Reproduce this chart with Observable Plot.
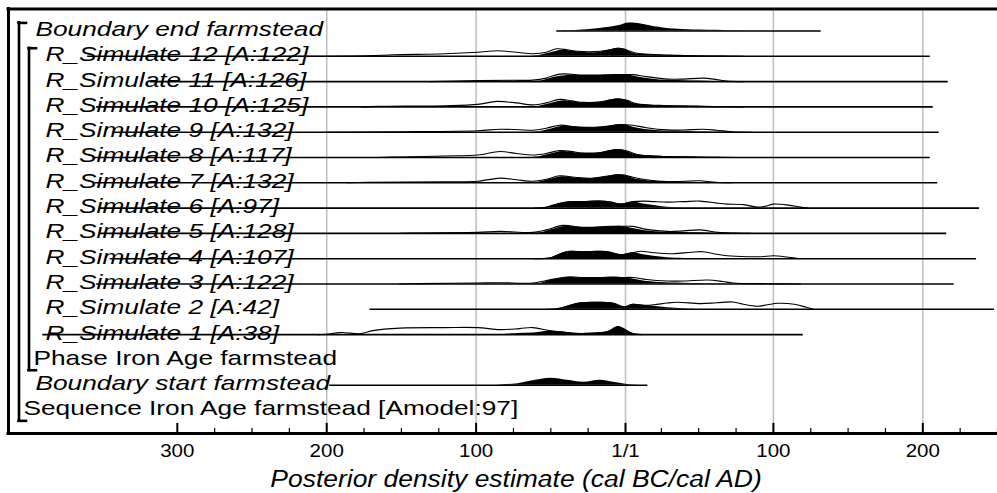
<!DOCTYPE html>
<html><head><meta charset="utf-8">
<script src="https://cdn.jsdelivr.net/npm/d3@7"></script>
<script src="https://cdn.jsdelivr.net/npm/@observablehq/plot@0.6"></script>
<style>
html,body{margin:0;padding:0;background:#fff;overflow:hidden}
</style></head><body><div id="chart"></div>
<script>
// ---------- data ----------
const labels = [
  "Boundary end farmstead",
  "R_Simulate 12 [A:122]", "R_Simulate 11 [A:126]", "R_Simulate 10 [A:125]",
  "R_Simulate 9 [A:132]", "R_Simulate 8 [A:117]", "R_Simulate 7 [A:132]",
  "R_Simulate 6 [A:97]", "R_Simulate 5 [A:128]", "R_Simulate 4 [A:107]",
  "R_Simulate 3 [A:122]", "R_Simulate 2 [A:42]", "R_Simulate 1 [A:38]",
  "Phase Iron Age farmstead", "Boundary start farmstead",
  "Sequence Iron Age farmstead [Amodel:97]"
];
const italic = [true, true,true,true,true,true,true,true,true,true,true,true,true, false, true, false];
const depth  = [1, 2,2,2,2,2,2,2,2,2,2,2,2, 1, 1, 0];
// calendar years (negative = BC); null = no range line
const rangeStart = [-45, -359,-317,-353,-342,-355,-354,-351,-351,-344,-353,-170,-389, null, -197, null];
const rangeEnd   = [132, 205,217,207,211,205,210,238,216,236,221,248,120, null, 16, null];

// groups (brackets): first row, last row
const groups = [
  {name: "Sequence Iron Age farmstead", first: 0, last: 15, depth: 0},
  {name: "Phase Iron Age farmstead", first: 1, last: 13, depth: 1}
];

// densities: [year, relative density]
const endPost = [[-45,0],[-30,0.8],[-16,2.5],[-4,5.2],[2,7.8],[6,8],[13,6.5],[18,5],[29,2.5],[36,1.8],[51,0.9],[73,0.3],[100,0]];

const sim12Prior = [[-230,0],[-172,0.5],[-154,1.5],[-120,2.5],[-98,4],[-85,5.5],[-72,4],[-61,2.5],[-52,4],[-45,7.5],[-38,6.5],[-31,5],[-16,5],[-9,6.5],[-4,8],[2,6],[9,3],[24,1.5],[40,0.8],[58,0.3],[80,0]];
const sim12Post  = [[-62,0],[-56,1],[-49,3.5],[-41,6],[-34,5],[-24,3.5],[-16,4],[-9,6.5],[-4,8],[1,7],[6,3],[13,2],[24,1.2],[40,0.6],[58,0.2],[75,0]];

const sim11Prior = [[-130,0],[-98,1],[-75,1.3],[-61,1.5],[-52,3.5],[-43,7.5],[-27,6.5],[-16,6.5],[-4,7],[1,7],[6,7],[15,5],[29,2.5],[40,2.5],[53,3.5],[62,2],[69,0.5],[80,0]];
const sim11Post  = [[-60,0],[-54,1],[-47,4],[-38,6],[-27,6],[-16,6.2],[-4,7],[1,7],[6,5.5],[13,3.5],[24,1.5],[40,0.8],[60,0.2],[75,0]];

const sim10Prior = [[-175,0],[-165,0.5],[-120,1.2],[-98,2.5],[-85,5.5],[-72,4],[-61,2],[-52,4],[-43,7.5],[-35,6],[-27,4.5],[-16,5],[-9,7],[-4,8],[2,6.5],[9,3],[24,1.5],[45,0.8],[63,0.2],[80,0]];
const sim10Post  = [[-62,0],[-56,1],[-49,3.5],[-41,6],[-31,4.5],[-24,4],[-16,4.5],[-9,7],[-4,8],[1,7],[6,3.5],[13,2],[24,1.2],[45,0.6],[63,0.2],[75,0]];

const sim9Prior = [[-200,0],[-150,0.5],[-98,1.5],[-83,3],[-70,2.5],[-61,2],[-52,4],[-43,7],[-33,5.5],[-22,5],[-12,6],[-4,7.5],[1,7.5],[6,7],[15,4.5],[29,2.3],[40,2.2],[53,3],[62,2],[73,0.3],[85,0]];
const sim9Post  = [[-62,0],[-55,1],[-48,3.5],[-41,6],[-30,5],[-20,4.5],[-10,6],[-4,7.5],[1,7.5],[6,5],[13,3],[24,1.5],[45,0.8],[65,0.2],[80,0]];

const sim8Prior = [[-165,0],[-152,0.5],[-120,1.5],[-98,2.5],[-83,6],[-72,4],[-61,2.5],[-52,4],[-43,7],[-33,5.5],[-27,4.5],[-16,5],[-9,7],[-4,8],[2,6.5],[9,3],[24,1.2],[40,0.7],[58,0.2],[75,0]];
const sim8Post  = [[-62,0],[-56,1],[-49,3.5],[-41,6],[-31,4.5],[-24,4],[-16,4.5],[-9,7],[-4,8],[1,7],[6,3.5],[13,2],[29,1],[45,0.6],[58,0.2],[70,0]];

const sim7Prior = [[-185,0],[-172,0.5],[-120,1],[-98,1.5],[-83,4.7],[-72,3],[-61,1.5],[-52,3.5],[-43,7],[-33,5.5],[-22,4.5],[-12,6.5],[-4,8],[1,7.5],[6,5.5],[15,3],[29,1.2],[40,1.5],[51,2],[58,1],[63,0.3],[72,0]];
const sim7Post  = [[-62,0],[-56,1],[-49,3.5],[-41,6],[-31,4.5],[-22,4],[-12,6],[-4,8],[1,7.5],[6,4.5],[13,2.5],[24,1.2],[40,0.6],[58,0.2],[70,0]];

const sim6Prior = [[-60,0],[-52,0.8],[-47,3],[-38,6],[-27,6.5],[-16,7],[-9,6],[-2,4],[6,6.5],[13,7],[20,6.5],[29,6],[40,6.5],[51,7],[62,5],[69,4],[80,3.5],[89,1],[95,2],[100,4],[110,3],[118,1],[123,0]];
const sim6Post  = [[-60,0],[-52,0.8],[-47,3],[-38,6],[-27,6.5],[-16,7],[-9,6],[-2,4],[6,6],[13,4],[20,2.5],[29,0.8],[40,0.2],[50,0]];

const sim5Prior = [[-150,0],[-138,0.4],[-98,1],[-83,2],[-61,1],[-52,3.5],[-41,8],[-31,6.5],[-27,6],[-16,6.5],[-9,7],[-2,7],[6,7],[15,4],[29,2],[40,2.5],[51,3.5],[63,1],[75,0.3],[85,0]];
const sim5Post  = [[-62,0],[-55,1],[-48,4],[-40,7],[-30,6],[-20,6],[-10,6.5],[-2,7],[6,5],[13,3],[24,1.5],[40,0.8],[60,0.2],[75,0]];

const sim4Prior = [[-60,0],[-49,1],[-44,4],[-38,7],[-27,7],[-11,7],[-2,4],[6,6],[11,7.5],[20,6],[33,5],[45,6.5],[53,7],[62,4.5],[69,3],[83,2],[92,2],[100,3],[110,1.5],[118,0]];
const sim4Post  = [[-60,0],[-49,1],[-44,4],[-38,7],[-27,7],[-11,7],[-2,4],[6,6],[13,4],[20,2.5],[29,1],[40,0.3],[50,0]];

const sim3Prior = [[-150,0],[-138,0.4],[-98,1],[-83,1.3],[-61,1],[-52,3.5],[-38,7],[-27,6.5],[-16,6.5],[-9,7],[-2,6.5],[6,6.5],[15,4.5],[29,3],[40,3],[56,4],[66,2.5],[73,1],[95,0.3],[118,0]];
const sim3Post  = [[-62,0],[-55,1],[-48,4],[-38,6.5],[-27,6],[-16,6],[-9,6.5],[-2,6.5],[6,5],[13,3],[24,1.5],[40,0.8],[60,0.2],[75,0]];

const sim2Prior = [[-52,0],[-45,0.5],[-38,3],[-31,6],[-16,7],[-7,6],[0,2.5],[6,5],[13,4],[20,4.5],[29,6.3],[36,7],[51,5.7],[62,6.5],[73,7.3],[80,5],[89,3],[96,4.5],[103,6],[114,5],[122,2],[127,0]];
const sim2Post  = [[-52,0],[-45,0.5],[-38,3],[-31,6],[-16,7],[-7,6],[0,2],[6,5],[13,4],[20,3],[29,1.5],[40,0.5],[50,0]];

const sim1Prior = [[-205,0],[-199,0.3],[-190,2],[-176,1],[-168,4],[-150,6.5],[-120,7],[-98,7],[-83,5],[-70,6],[-61,7],[-50,4],[-38,2],[-27,1],[-16,1.5],[-8,4],[-4,8],[0,5],[6,1],[12,0]];
const sim1Post  = [[-80,0],[-71,1],[-61,1.5],[-52,3],[-47,3],[-38,2.2],[-31,1],[-22,1.5],[-11,3],[-4,8],[0,6],[5,1.5],[9,0.3],[14,0]];

const startPost = [[-90,0],[-83,0.3],[-71,1.5],[-61,4.5],[-49,7],[-38,5],[-27,3],[-16,5],[-7,3],[1,1],[6,0.3],[12,0]];

// axis
const tickYears  = [-299, -199, -99, 1, 100, 200];
const tickLabels = ["300", "200", "100", "1/1", "100", "200"];
const minorYears = [-274,-249,-224,-174,-149,-124,-74,-49,-24,25,50,75,125,150,175,225,250];
const gridYears  = [-199, -99, 1, 100, 200];
const xLabel = "Posterior density estimate (cal BC/cal AD)";

// ---------- build tables ----------
const xMin = -412, xMax = 250;
const yTop = -0.87, yBottom = 15.91;
const k = 1 / 25.3; // row units per density unit

const rows = labels.map((label, i) => ({row: i, label, depth: depth[i], italic: italic[i], start: rangeStart[i], end: rangeEnd[i]}));
const priorSeries = [[1, sim12Prior],[2, sim11Prior],[3, sim10Prior],[4, sim9Prior],[5, sim8Prior],[6, sim7Prior],[7, sim6Prior],[8, sim5Prior],[9, sim4Prior],[10, sim3Prior],[11, sim2Prior],[12, sim1Prior]];
const postSeries = [[0, endPost],[1, sim12Post],[2, sim11Post],[3, sim10Post],[4, sim9Post],[5, sim8Post],[6, sim7Post],[7, sim6Post],[8, sim5Post],[9, sim4Post],[10, sim3Post],[11, sim2Post],[12, sim1Post],[14, startPost]];
const flat = s => s.flatMap(([row, pts]) => pts.map(([year, density]) => ({row, year, density})));
const priorPts = flat(priorSeries);
const postPts = flat(postSeries);
const ticks = tickYears.map((year, i) => ({year, label: tickLabels[i]}));

const font = "'Liberation Sans', Arial, Helvetica, sans-serif";
const LABEL_FS = 21, TICK_FS = 19, TITLE_FS = 23;

function labelMark(dep, it, dx) {
  return Plot.text(rows.filter(d => d.depth === dep && d.italic === it), {
    y: "row", text: "label", frameAnchor: "left", textAnchor: "start", lineAnchor: "bottom",
    dx, dy: 5, fontSize: LABEL_FS, fontStyle: it ? "italic" : "normal", fill: "black"
  });
}
function bracketMarks(g, dx) {
  return [
    Plot.ruleX([g], {x: xMin, y1: d => d.first - 0.32, y2: d => d.last + 0.41, dx, strokeWidth: 2.6, strokeLinecap: "square"}),
    Plot.ruleY([g], {y: d => d.first - 0.32, x1: xMin, x2: xMin + 5, dx, strokeWidth: 2.6, strokeLinecap: "square"}),
    Plot.ruleY([g], {y: d => d.last + 0.41, x1: xMin, x2: xMin + 5, dx, strokeWidth: 2.6, strokeLinecap: "square"})
  ];
}

const plot = Plot.plot({
  width: 997, height: 493,
  marginLeft: 8, marginRight: 0, marginTop: 8.5, marginBottom: 60,
  x: {domain: [xMin, xMax], axis: null},
  y: {domain: [yTop, yBottom], reverse: true, axis: null},
  style: {fontFamily: font, background: "white", color: "black"},
  marks: [
    Plot.ruleX(gridYears, {stroke: "#bdbdbd", strokeWidth: 1.5}),
    labelMark(0, false, 15),
    labelMark(1, true, 27),
    labelMark(1, false, 25),
    labelMark(2, true, 37),
    Plot.line(priorPts, {x: "year", y: d => d.row - d.density * k, z: "row", stroke: "black", strokeWidth: 1.1, curve: "catmull-rom"}),
    Plot.areaY(postPts, {x: "year", y1: "row", y2: d => d.row - d.density * k, z: "row", fill: "black", curve: "catmull-rom"}),
    Plot.ruleY(rows.filter(d => d.start != null), {y: "row", x1: "start", x2: "end", stroke: "black", strokeWidth: 1.6}),
    ...bracketMarks(groups[0], 10.5),
    ...bracketMarks(groups[1], 20.5),
    // frame: top, bottom, left
    Plot.ruleY([yTop, yBottom], {stroke: "black", strokeWidth: 3, strokeLinecap: "square"}),
    Plot.ruleX([xMin], {stroke: "black", strokeWidth: 3, strokeLinecap: "square"}),
    // ticks
    Plot.ruleX(ticks, {x: "year", y1: yBottom, y2: yBottom - 0.4, stroke: "black", strokeWidth: 2}),
    Plot.ruleX(minorYears, {y1: yBottom, y2: yBottom - 0.2, stroke: "black", strokeWidth: 1.2}),
    Plot.text(ticks, {x: "year", y: yBottom, text: "label", lineAnchor: "bottom", dy: 23, fontSize: TICK_FS, fill: "black"}),
    Plot.text([xLabel], {frameAnchor: "bottom", dx: 13, dy: 53, lineAnchor: "bottom", fontSize: TITLE_FS, fontStyle: "italic", fill: "black"})
  ]
});
document.getElementById("chart").append(plot);

// horizontal stretch of the text (the reference glyphs are wide)
const stretch = {[LABEL_FS]: 1.25, [TICK_FS]: 1.08, [TITLE_FS]: 1.15};
d3.select(plot).selectAll("text").each(function() {
  let fs = null, n = this;
  while (n && n !== plot && fs == null) { fs = n.getAttribute && n.getAttribute("font-size"); n = n.parentNode; }
  const f = stretch[parseFloat(fs)];
  if (!f) return;
  const len = this.getComputedTextLength();
  if (len > 0) {
    this.setAttribute("textLength", (len * f).toFixed(1));
    this.setAttribute("lengthAdjust", "spacingAndGlyphs");
  }
});
</script></body></html>
